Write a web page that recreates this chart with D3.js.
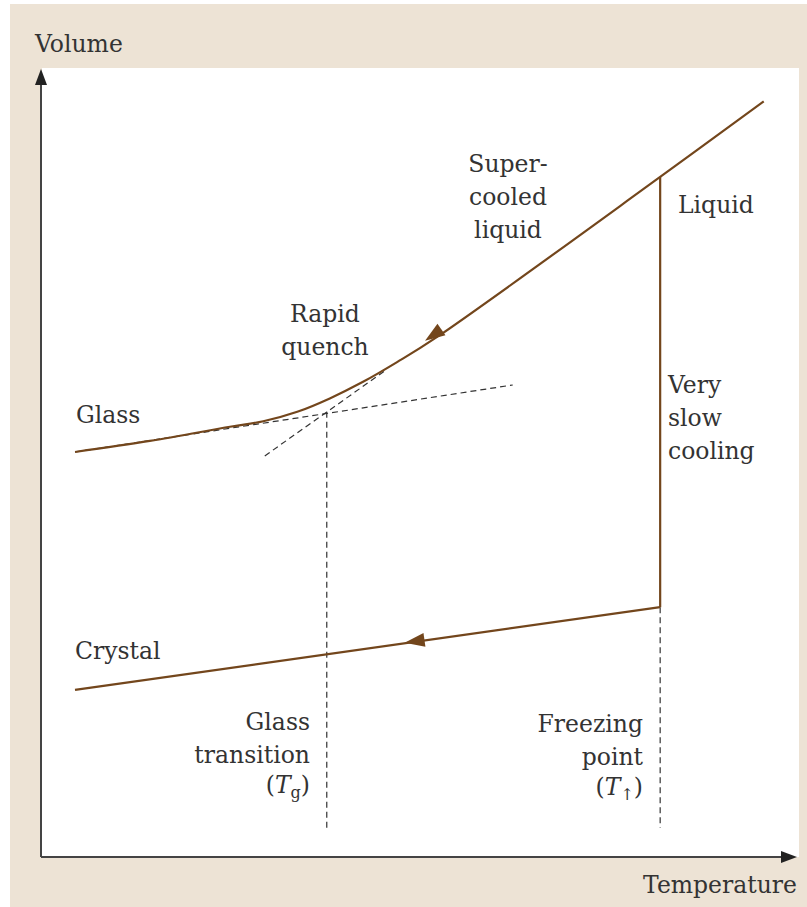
<!DOCTYPE html>
<html>
<head>
<meta charset="utf-8">
<script src="https://cdn.jsdelivr.net/npm/d3@7"></script>
<style>
    body { margin: 0; background: #fff; }
    svg text { font-family: "DejaVu Serif", "Liberation Serif", serif; fill: #333; }
</style>
</head>
<body>
<div id="chart"></div>
<script>
// Curves, [temperature, volume] in arbitrary units 0-100
const coolingPath = [
    [95.6, 95.9], [81.9, 86.3], [52.4, 66.0], [47.1, 62.8], [42.6, 60.3],
    [38.2, 58.2], [33.9, 56.5], [29.4, 55.3], [25.0, 54.6], [14.4, 52.8], [4.5, 51.4]
];
const slowCooling = [[81.9, 86.3], [81.9, 31.7]];
const crystalLine = [[81.9, 31.7], [4.5, 21.2]];
const glassExtrap = [[4.5, 51.4], [62.4, 59.9]];
const liquidExtrap = [[29.6, 50.9], [45.5, 61.7]];
const tgDrop = [[37.8, 56.5], [37.8, 3.7]];
const tfDrop = [[81.9, 31.7], [81.9, 3.7]];
// arrow tips and the point they come from
const arrows = [
    { tip: [50.8, 65.5], from: [81.9, 86.3] },
    { tip: [48.1, 27.2], from: [81.9, 31.7] }
];

const width = 807, height = 907;
const brown = "#73461c";

const svg = d3.select("#chart").append("svg")
    .attr("width", width)
    .attr("height", height);

// Beige frame and white plot area
svg.append("rect").attr("x", 10).attr("y", 4).attr("width", width - 10).attr("height", height - 4)
    .attr("fill", "#ede3d5");
svg.append("rect").attr("x", 42).attr("y", 68).attr("width", 757).attr("height", 789)
    .attr("fill", "#fff");

const x = d3.scaleLinear().domain([0, 100]).range([41, 797]);
const y = d3.scaleLinear().domain([0, 100]).range([857, 69]);

const line = d3.line().x(d => x(d[0])).y(d => y(d[1]));
const smooth = d3.line().x(d => x(d[0])).y(d => y(d[1])).curve(d3.curveCatmullRom.alpha(0.5));

// Axes: plain lines with arrow heads
svg.append("line").attr("x1", x(0)).attr("y1", y(0)).attr("x2", x(100) - 8).attr("y2", y(0))
    .attr("stroke", "#444").attr("stroke-width", 2);
svg.append("line").attr("x1", x(0)).attr("y1", y(0)).attr("x2", x(0)).attr("y2", y(100) + 8)
    .attr("stroke", "#444").attr("stroke-width", 2);
svg.append("path")
    .attr("d", `M${x(100)},${y(0)} L${x(100) - 16},${y(0) - 6} L${x(100) - 16},${y(0) + 6} Z`)
    .attr("fill", "#222");
svg.append("path")
    .attr("d", `M${x(0)},${y(100)} L${x(0) - 6},${y(100) + 16} L${x(0) + 6},${y(100) + 16} Z`)
    .attr("fill", "#222");

// Dashed construction lines
[glassExtrap, liquidExtrap, tgDrop, tfDrop].forEach(d => {
    svg.append("path")
        .attr("d", line(d))
        .attr("fill", "none")
        .attr("stroke", "#333")
        .attr("stroke-width", 1.2)
        .attr("stroke-dasharray", "6,4");
});

// Cooling curves
svg.append("path").attr("d", smooth(coolingPath))
    .attr("fill", "none").attr("stroke", brown).attr("stroke-width", 2.2);
[slowCooling, crystalLine].forEach(d => {
    svg.append("path").attr("d", line(d))
        .attr("fill", "none").attr("stroke", brown).attr("stroke-width", 2.2);
});

// Arrow heads pointing along the curves
arrows.forEach(a => {
    const tx = x(a.tip[0]), ty = y(a.tip[1]);
    const ang = Math.atan2(ty - y(a.from[1]), tx - x(a.from[0])) * 180 / Math.PI;
    svg.append("path")
        .attr("d", "M0,0 L-20,-7 L-20,7 Z")
        .attr("transform", `translate(${tx},${ty}) rotate(${ang})`)
        .attr("fill", brown);
});

// Labels
const fs = 23.5;
function label(lines, px, py, anchor) {
    const t = svg.append("text")
        .attr("x", px).attr("y", py)
        .attr("text-anchor", anchor)
        .style("font-size", fs + "px");
    lines.forEach((s, i) => {
        t.append("tspan").attr("x", px).attr("dy", i === 0 ? 0 : 33).text(s);
    });
    return t;
}

label(["Volume"], 35, 52, "start");
label(["Temperature"], 797, 893, "end");
label(["Super-", "cooled", "liquid"], 508, 172, "middle");
label(["Rapid", "quench"], 325, 322, "middle");
label(["Liquid"], 678, 213, "start");
label(["Very", "slow", "cooling"], 668, 393, "start");
label(["Glass"], 76, 423, "start");
label(["Crystal"], 75, 659, "start");
label(["Glass", "transition"], 310, 730, "end");
label(["Freezing", "point"], 643, 732, "end");

// (Tg) and (T↑) with italic T and subscripts
function symbolLabel(px, py, sub) {
    const t = svg.append("text").attr("x", px).attr("y", py)
        .attr("text-anchor", "end").style("font-size", fs + "px");
    t.append("tspan").text("(");
    t.append("tspan").style("font-style", "italic").text("T");
    t.append("tspan").attr("dy", 5).style("font-size", "16px").text(sub);
    t.append("tspan").attr("dy", -5).text(")");
}
symbolLabel(310, 793, "g");
symbolLabel(643, 795, "↑");
</script>
</body>
</html>
